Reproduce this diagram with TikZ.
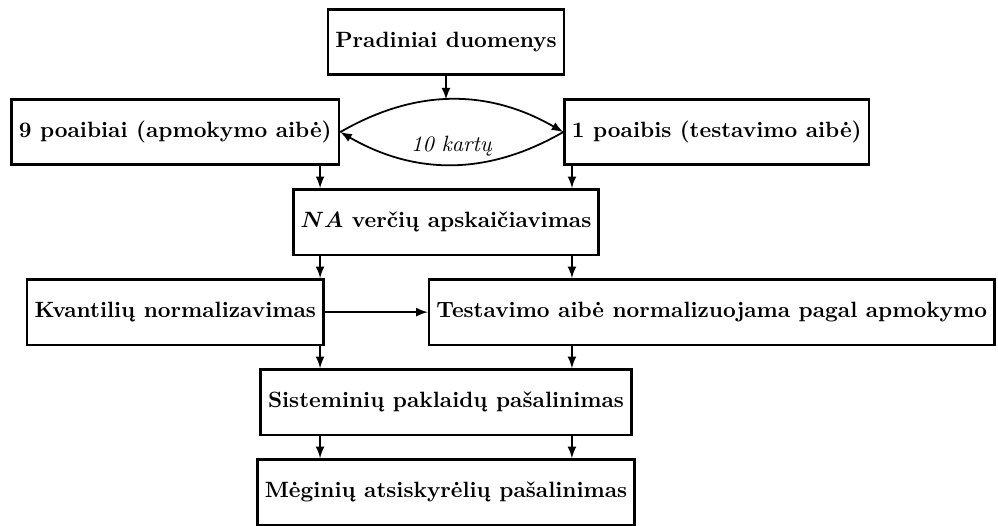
\documentclass[tikz,border=0pt]{standalone}
\usepackage{amsmath}
\usepackage{bm}
\usepackage{tikz}
\usetikzlibrary{positioning, arrows}

\tikzset{
    blokas/.style={draw, very thick, minimum height=1.04cm, font=\bfseries},
    rodykle/.style={-latex, thick}
}

\begin{document}
\begin{tikzpicture}
    \useasboundingbox (-7.083,0.667) rectangle (8.766,-7.686);
    \coordinate (kaire) at (-2,0);
    \coordinate (desine) at (2,0);
    %
    \node[blokas] (pradiniai) at (0,0) {Pradiniai duomenys};
    \node[blokas] (apmokymo) at (-4.3,-1.43) {9 poaibiai (apmokymo aibė)};
    \node[blokas] (testavimo) at (4.3,-1.43) {1 poaibis (testavimo aibė)};
    \node[blokas] (na) at (0,-2.86) {$\bm{NA}$ verčių apskaičiavimas};
    \node[blokas] (kvantiliai) at (-4.3,-4.29) {Kvantilių normalizavimas};
    \node[blokas, anchor=west] (pagal) at (-0.29,-4.29) {Testavimo aibė normalizuojama pagal apmokymo};
    \node[blokas] (sisteminiai) at (0,-5.72) {Sisteminių paklaidų pašalinimas};
    \node[blokas] (atsiskyreliai) at (0,-7.15) {Mėginių atsiskyrėlių pašalinimas};
    %
    \draw[rodykle] (apmokymo.east) to[bend left=30] coordinate[midway] (virsus) (testavimo.west);
    \draw[rodykle] (testavimo.west) to[bend left=30] node[midway, above] {\textit{10 kartų}} (apmokymo.east);
    \draw[rodykle] (pradiniai.south) -- (pradiniai.south |- virsus);
    %
    \draw[rodykle] (apmokymo.south -| kaire) -- (na.north -| kaire);
    \draw[rodykle] (testavimo.south -| desine) -- (na.north -| desine);
    \draw[rodykle] (na.south -| kaire) -- (kvantiliai.north -| kaire);
    \draw[rodykle] (na.south -| desine) -- (pagal.north -| desine);
    \draw[rodykle] (kvantiliai) -- (pagal);
    %
    \draw[rodykle] (kvantiliai.south -| kaire) -- (sisteminiai.north -| kaire);
    \draw[rodykle] (pagal.south -| desine) -- (sisteminiai.north -| desine);
    \draw[rodykle] (sisteminiai.south -| kaire) -- (atsiskyreliai.north -| kaire);
    \draw[rodykle] (sisteminiai.south -| desine) -- (atsiskyreliai.north -| desine);
\end{tikzpicture}
\end{document}
